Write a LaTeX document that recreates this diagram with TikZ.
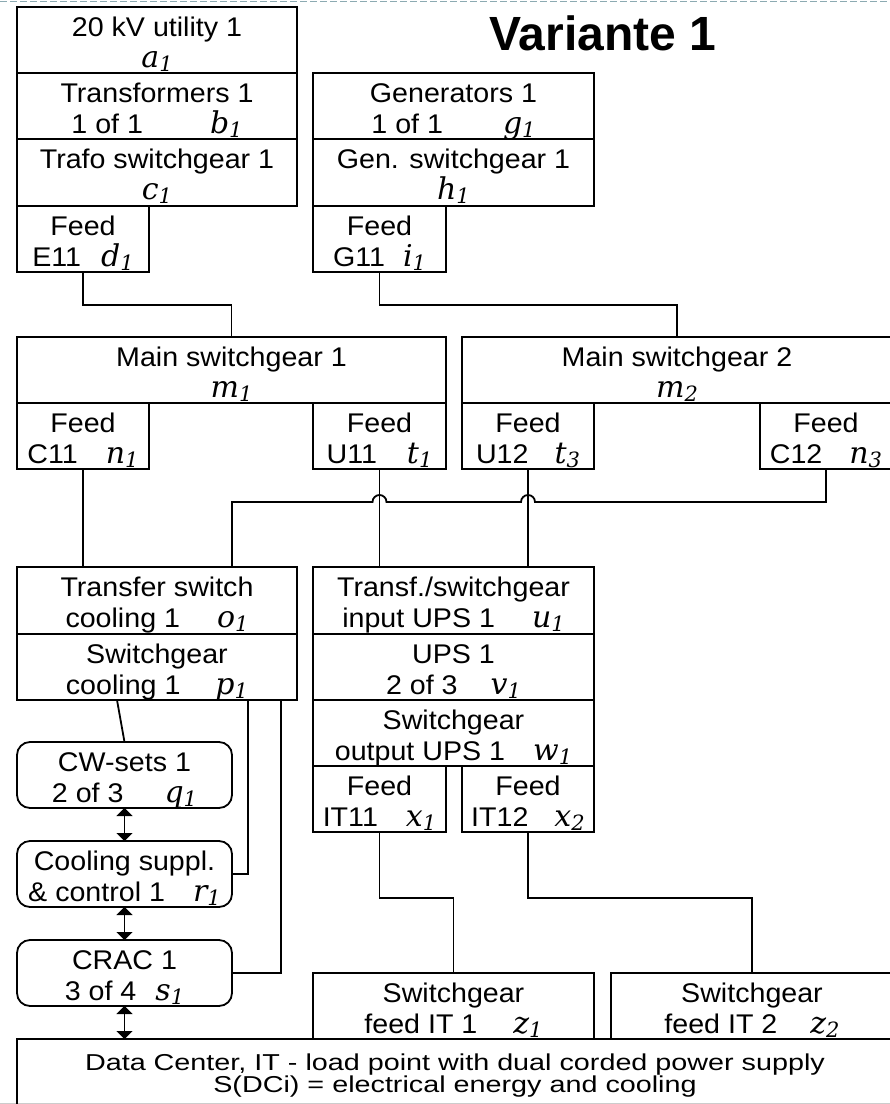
\documentclass[tikz,border=0pt]{standalone}
\usepackage{fontspec}
\setmainfont{Liberation Sans}
\newfontfamily\boxfont[FakeStretch=1.06]{Liberation Sans}
\newfontfamily\dcfont[FakeStretch=1.25]{Liberation Sans}
\newfontfamily\lblfont{DejaVu Serif}
\newcommand{\lbl}[2]{{\lblfont\fontsize{30}{31}\selectfont\itshape #1\raisebox{-4pt}{\fontsize{21}{21}\selectfont #2}}}
\usetikzlibrary{positioning}
\usetikzlibrary{arrows.meta}
\definecolor{slide}{RGB}{140,170,178}

\begin{document}
\begin{tikzpicture}[x=1pt,y=-1pt,
  blk/.style={draw=black,line width=1.8pt,inner sep=0pt,outer sep=0pt,align=center,
    font=\boxfont\fontsize{27}{31}\selectfont,text height=54pt,text depth=0pt,minimum height=66pt},
  rblk/.style={blk,rounded corners=13pt},
  wire/.style={line width=1.8pt},
  dbl/.style={line width=1.8pt,{Triangle[width=16pt,length=8pt]}-{Triangle[width=16pt,length=8pt]}}]
  \useasboundingbox (0,0) rectangle (890,1104);
  \draw[slide,line width=1pt,dash pattern=on 7pt off 3pt] (0,1) -- (890,1);
  \draw[gray!40,line width=1pt] (0,1103.5) -- (890,1103.5);
  \node[font=\fontsize{48}{50}\selectfont\bfseries,anchor=base] (title) at (603,50) {Variante 1};
  % utility side
  \node[blk,minimum width=280pt,anchor=north west] (a) at (17,7) {20 kV utility 1\\\lbl{a}{1}};
  \node[blk,minimum width=280pt,below=0pt of a] (b) {Transformers 1\\1 of 1\hspace{67pt}\lbl{b}{1}};
  \node[blk,minimum width=280pt,minimum height=67pt,below=0pt of b] (c) {Trafo switchgear 1\\\lbl{c}{1}};
  \node[blk,minimum width=132pt,below=0pt of c.south west,anchor=north west] (d) {Feed\\E11\hspace{20pt}\lbl{d}{1}};
  % generator side
  \node[blk,minimum width=281pt,anchor=north west] (g) at (313,73) {Generators 1\\1 of 1\hspace{60pt}\lbl{g}{1}};
  \node[blk,minimum width=281pt,minimum height=67pt,below=0pt of g] (h) {Gen. switchgear 1\\\lbl{h}{1}};
  \node[blk,minimum width=133pt,below=0pt of h.south west,anchor=north west] (i) {Feed\\G11\hspace{18pt}\lbl{i}{1}};
  % main switchgears
  \node[blk,minimum width=429pt,anchor=north west] (m1) at (17,337) {Main switchgear 1\\\lbl{m}{1}};
  \node[blk,minimum width=132pt,below=0pt of m1.south west,anchor=north west] (n1) {Feed\\C11\hspace{28pt}\lbl{n}{1}};
  \node[blk,minimum width=133pt,below=0pt of m1.south east,anchor=north east] (t1) {Feed\\U11\hspace{30pt}\lbl{t}{1}};
  \node[blk,minimum width=430pt,anchor=north west] (m2) at (462,337) {Main switchgear 2\\\lbl{m}{2}};
  \node[blk,minimum width=132pt,below=0pt of m2.south west,anchor=north west] (t3) {Feed\\U12\hspace{26pt}\lbl{t}{3}};
  \node[blk,minimum width=132pt,below=0pt of m2.south east,anchor=north east] (n3) {Feed\\C12\hspace{27pt}\lbl{n}{3}};
  % cooling
  \node[blk,minimum width=280pt,minimum height=67pt,anchor=north west] (o1) at (17,567) {Transfer switch\\cooling 1\hspace{37pt}\lbl{o}{1}};
  \node[blk,minimum width=280pt,below=0pt of o1] (p1) {Switchgear\\cooling 1\hspace{35pt}\lbl{p}{1}};
  \node[rblk,minimum width=215pt,anchor=north west] (q1) at (17,742) {CW-sets 1\\2 of 3\hspace{41pt}\lbl{q}{1}};
  \node[rblk,minimum width=215pt,below=33pt of q1] (r1) {Cooling suppl.\\\& control 1\hspace{28pt}\lbl{r}{1}};
  \node[rblk,minimum width=215pt,below=33pt of r1] (s1) {CRAC 1\\3 of 4\hspace{19pt}\lbl{s}{1}};
  % UPS
  \node[blk,minimum width=281pt,minimum height=67pt,anchor=north west] (u1) at (313,567) {Transf./switchgear\\input UPS 1\hspace{37pt}\lbl{u}{1}};
  \node[blk,minimum width=281pt,below=0pt of u1] (v1) {UPS 1\\2 of 3\hspace{33pt}\lbl{v}{1}};
  \node[blk,minimum width=281pt,below=0pt of v1] (w1) {Switchgear\\output UPS 1\hspace{28pt}\lbl{w}{1}};
  \node[blk,minimum width=133pt,below=0pt of w1.south west,anchor=north west] (x1) {Feed\\IT11\hspace{28pt}\lbl{x}{1}};
  \node[blk,minimum width=132pt,below=0pt of w1.south east,anchor=north east] (x2) {Feed\\IT12\hspace{26pt}\lbl{x}{2}};
  \node[blk,minimum width=281pt,anchor=north west] (z1) at (313,973) {Switchgear\\feed IT 1\hspace{36pt}\lbl{z}{1}};
  \node[blk,minimum width=282pt,anchor=north west] (z2) at (611,973) {Switchgear\\feed IT 2\hspace{33pt}\lbl{z}{2}};
  \node[blk,minimum width=876pt,minimum height=70pt,anchor=north west,
    font=\dcfont\fontsize{23}{22}\selectfont,text height=51pt,text depth=15pt] (dc) at (17,1039)
    {Data Center, IT - load point with dual corded power supply\\S(DCi) = electrical energy and cooling};
  % connectors
  \coordinate (o1in) at ([xshift=75pt]o1.north);
  \path (n3.south) ++(0,33) coordinate (bus);
  \draw[wire] (d.south) -- ++(0,33) -| (m1.north);
  \draw[wire] (i.south) -- ++(0,33) -| (m2.north);
  \draw[wire] (n1.south) -- (n1.south |- o1.north);
  \draw[wire] (t1.south) -- (t1.south |- u1.north);
  \draw[wire] (t3.south) -- (t3.south |- u1.north);
  \draw[wire] (n3.south) -- (bus) -- ([xshift=7pt]t3.south |- bus) arc[start angle=0,end angle=180,radius=7pt]
    -- ([xshift=7pt]t1.south |- bus) arc[start angle=0,end angle=180,radius=7pt] -- (o1in |- bus) -- (o1in);
  \draw[wire] ([xshift=100pt]p1.south west) -- (q1.north);
  \draw[wire] ([xshift=231pt]p1.south west) |- (r1.east);
  \draw[wire] ([xshift=264pt]p1.south west) |- (s1.east);
  \draw[dbl] (q1.south) -- (r1.north);
  \draw[dbl] (r1.south) -- (s1.north);
  \draw[dbl] (s1.south) -- (s1.south |- dc.north);
  \draw[wire] (x1.south) -- ++(0,66) -| (z1.north);
  \draw[wire] (x2.south) -- ++(0,66) -| (z2.north);
\end{tikzpicture}
\end{document}
